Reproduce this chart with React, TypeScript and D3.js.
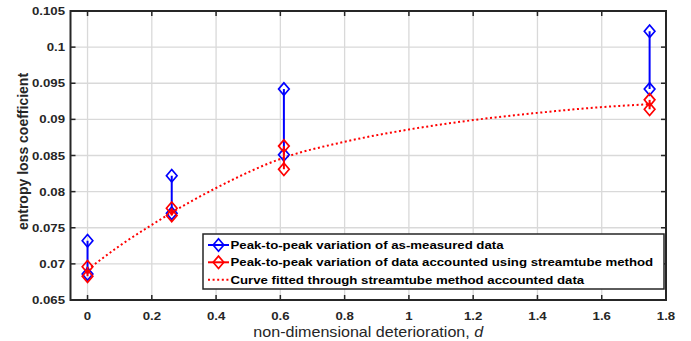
import React from "react";
import * as d3 from "d3";

const xTicks = [0, 0.2, 0.4, 0.6, 0.8, 1, 1.2, 1.4, 1.6, 1.8];
const yTicks = [0.065, 0.07, 0.075, 0.08, 0.085, 0.09, 0.095, 0.1, 0.105];
const yTickLabels = ["0.065", "0.07", "0.075", "0.08", "0.085", "0.09", "0.095", "0.1", "0.105"];

const dValues = [0, 0.262, 0.611, 1.749];
const measuredLow = [0.0686, 0.077, 0.0851, 0.0942];
const measuredHigh = [0.0732, 0.0822, 0.0942, 0.1022];
const streamLow = [0.0683, 0.0767, 0.0831, 0.0914];
const streamHigh = [0.0696, 0.0777, 0.0863, 0.0927];

const curveD = [0, 0.1, 0.2, 0.262, 0.4, 0.611, 0.8, 1.0, 1.2, 1.4, 1.6, 1.749];
const curveY = [0.0692, 0.0725, 0.0754, 0.0771, 0.0805, 0.0847, 0.0869, 0.0886, 0.0899, 0.0909, 0.0917, 0.0921];

const legendLabels = [
  "Peak-to-peak variation of as-measured data",
  "Peak-to-peak variation of data accounted using streamtube method",
  "Curve fitted through streamtube method accounted data",
];

const W = 691;
const H = 341;
const L = 70.5, R = 666, T = 11, B = 300;
const AX = "#262626";
const FONT = "'Liberation Sans', Arial, sans-serif";
const SX = 1.15;

function Diamond({ x, y, color }: { x: number; y: number; color: string }) {
  const w = 5.3, h = 6.2;
  return (
    <path
      d={`M${x},${y - h}L${x + w},${y}L${x},${y + h}L${x - w},${y}Z`}
      fill="none"
      stroke={color}
      strokeWidth={1.7}
    />
  );
}

function SText({ x, y, anchor, size, weight, fill, children }: any) {
  return (
    <text
      transform={`translate(${x},${y}) scale(${SX},1)`}
      textAnchor={anchor || "start"}
      fontSize={size}
      fontWeight={weight || "normal"}
      fill={fill}
    >
      {children}
    </text>
  );
}

export default function App() {
  const x = d3.scaleLinear().domain([-0.053, 1.8]).range([L, R]);
  const y = d3.scaleLinear().domain([0.065, 0.105]).range([B, T]);
  const line = d3
    .line<number>()
    .x((_, i) => x(curveD[i]))
    .y((v) => y(v))
    .curve(d3.curveMonotoneX);

  const legX = 203, legY = 234, legW = 461, legH = 55;
  const rowY = [245, 262.3, 279.7];

  return (
    <svg width={W} height={H} style={{ position: "absolute", left: 0, top: 0 }} fontFamily={FONT}>
      <rect x={0} y={0} width={W} height={H} fill="white" />
      {/* grid */}
      {xTicks.map((t) => (
        <line key={"gx" + t} x1={x(t)} x2={x(t)} y1={T} y2={B} stroke="#d9d9d9" strokeWidth={1.3} />
      ))}
      {yTicks.map((t) => (
        <line key={"gy" + t} x1={L} x2={R} y1={y(t)} y2={y(t)} stroke="#d9d9d9" strokeWidth={1.3} />
      ))}
      {/* ticks */}
      {xTicks.map((t) => (
        <g key={"tx" + t}>
          <line x1={x(t)} x2={x(t)} y1={B} y2={B - 5} stroke={AX} strokeWidth={1.5} />
          <line x1={x(t)} x2={x(t)} y1={T} y2={T + 5} stroke={AX} strokeWidth={1.5} />
          <SText x={x(t)} y={319.5} anchor="middle" size={11.5} weight="bold" fill={AX}>
            {String(t)}
          </SText>
        </g>
      ))}
      {yTicks.map((t, i) => (
        <g key={"ty" + t}>
          <line x1={L} x2={L + 5} y1={y(t)} y2={y(t)} stroke={AX} strokeWidth={1.5} />
          <line x1={R} x2={R - 5} y1={y(t)} y2={y(t)} stroke={AX} strokeWidth={1.5} />
          <SText x={65} y={y(t) + 4} anchor="end" size={11.5} weight="bold" fill={AX}>
            {yTickLabels[i]}
          </SText>
        </g>
      ))}
      {/* fitted curve */}
      <path d={line(curveY) || ""} fill="none" stroke="#ff0000" strokeWidth={2} strokeDasharray="2,2.6" />
      {/* measured */}
      {dValues.map((d, i) => (
        <g key={"m" + i}>
          <line x1={x(d)} x2={x(d)} y1={y(measuredLow[i])} y2={y(measuredHigh[i])} stroke="#0000ff" strokeWidth={2} />
          <Diamond x={x(d)} y={y(measuredLow[i])} color="#0000ff" />
          <Diamond x={x(d)} y={y(measuredHigh[i])} color="#0000ff" />
        </g>
      ))}
      {/* streamtube */}
      {dValues.map((d, i) => (
        <g key={"s" + i}>
          <line x1={x(d)} x2={x(d)} y1={y(streamLow[i])} y2={y(streamHigh[i])} stroke="#ff0000" strokeWidth={2} />
          <Diamond x={x(d)} y={y(streamLow[i])} color="#ff0000" />
          <Diamond x={x(d)} y={y(streamHigh[i])} color="#ff0000" />
        </g>
      ))}
      {/* axes box */}
      <rect x={L} y={T} width={R - L} height={B - T} fill="none" stroke={AX} strokeWidth={2} />
      {/* legend */}
      <rect x={legX} y={legY} width={legW} height={legH} fill="white" stroke={AX} strokeWidth={1.5} />
      {[0, 1].map((k) => {
        const c = k === 0 ? "#0000ff" : "#ff0000";
        return (
          <g key={"lg" + k}>
            <line x1={208} x2={229} y1={rowY[k]} y2={rowY[k]} stroke={c} strokeWidth={2} />
            <Diamond x={218.5} y={rowY[k]} color={c} />
          </g>
        );
      })}
      <line x1={208} x2={229} y1={rowY[2]} y2={rowY[2]} stroke="#ff0000" strokeWidth={2} strokeDasharray="2,2.6" />
      {legendLabels.map((s, k) => (
        <SText key={"lt" + k} x={230.5} y={rowY[k] + 4} size={11.5} weight="bold" fill="#000">
          {s}
        </SText>
      ))}
      {/* axis titles */}
      <text
        transform={`translate(${(L + R) / 2},336.5) scale(${SX},1)`}
        textAnchor="middle"
        fontSize={14}
        fill={AX}
      >
        non-dimensional deterioration, <tspan fontStyle="italic">d</tspan>
      </text>
      <text
        transform={`translate(28,${(T + B) / 2 - 4}) rotate(-90)`}
        textAnchor="middle"
        fontSize={14}
        fontWeight="bold"
        fill={AX}
      >
        entropy loss coefficient
      </text>
    </svg>
  );
}
